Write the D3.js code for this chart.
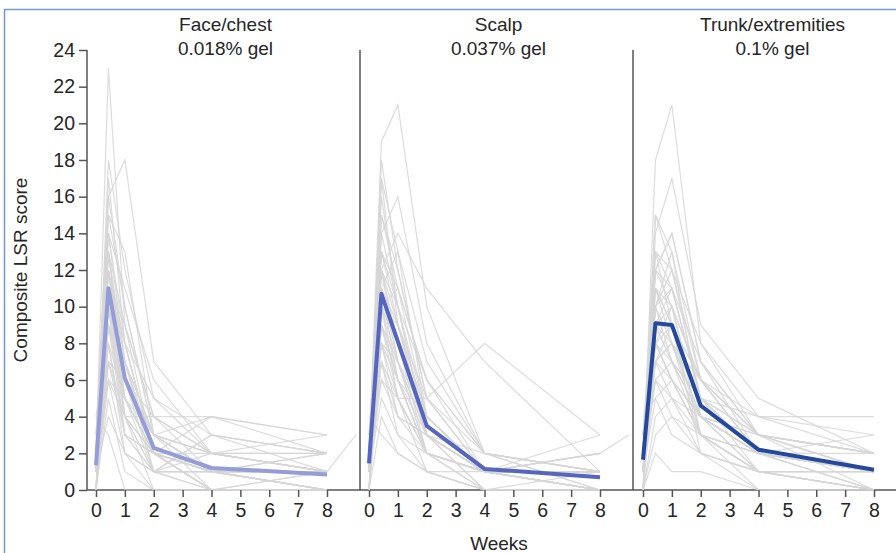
<!DOCTYPE html>
<html>
<head>
<meta charset="utf-8">
<script src="https://cdn.jsdelivr.net/npm/d3@7"></script>
<style>
    body { margin: 0; background: #fff; }
    svg { display: block; font-family: "Liberation Sans", Arial, sans-serif; }
    .axis text { font-size: 19.5px; fill: #262626; }
    .axis line, .axis path { stroke: #555; stroke-width: 1.5; }
    .title { font-size: 19px; fill: #262626; text-anchor: middle; }
    .patient { fill: none; stroke: #d6d6d6; stroke-width: 1.2; stroke-opacity: 0.85; }
    .mean { fill: none; stroke-width: 4; stroke-linejoin: round; }
</style>
</head>
<body>
<svg id="chart" width="896" height="553"></svg>
<script>
// visit weeks (day 3 = 0.43 wk); last slot is a late follow-up used by a few patients
const weeks = [0, 0.43, 1, 2, 4, 8, 9];
const xTicks = [0, 1, 2, 3, 4, 5, 6, 7, 8];
const yTicks = [0, 2, 4, 6, 8, 10, 12, 14, 16, 18, 20, 22, 24];
const panelTitles = [["Face/chest", "0.018% gel"], ["Scalp", "0.037% gel"], ["Trunk/extremities", "0.1% gel"]];
const meanColors = ["#949dd8", "#5666c0", "#24489e"];

// individual patient composite LSR scores (grey lines)
const facePatients = [
    [2, 23, 9, 4, 1, 0], [1, 18, 12, 5, 2, 1], [3, 16, 18, 7, 3, 2], [0, 15, 10, 3, 1, 0],
    [2, 14, 8, 2, 1, 1], [1, 13, 5, 2, 0, 0], [0, 12, 7, 3, 4, 3], [2, 12, 6, 1, 1, 1],
    [1, 11, 9, 4, 2, 1], [3, 11, 4, 2, 4, 2], [0, 10, 6, 3, 1, 0], [1, 10, 3, 2, 2, 3],
    [2, 10, 7, 1, 0, 0], [1, 9, 5, 2, 1, 1], [0, 9, 4, 0, 0, 0], [2, 9, 6, 3, 2, 2],
    [1, 8, 5, 2, 1, 0], [4, 8, 2, 1, 3, 1], [1, 7, 4, 2, 0, 0], [0, 7, 3, 1, 1, 2],
    [2, 6, 4, 4, 2, 1], [1, 6, 2, 0, 0, 0], [0, 5, 1, 0, 0, 0], [1, 4, 2, 1, 3, 2],
    [2, 12, 8, 2, 0, 1], [1, 13, 6, 3, 1, 0], [0, 14, 11, 6, 2, 1], [2, 11, 5, 2, 1, 1, 3],
    [1, 9, 7, 3, 0, 0], [2, 10, 4, 1, 1, 0], [0, 6, 5, 3, 2, 1], [1, 13, 9, 2, 1, 0],
    [2, 17, 8, 2, 0, 1], [1, 12, 4, 1, 2, 2], [0, 8, 3, 2, 1, 0], [4, 3, 0, 0, 0, 0],
    [1, 10, 6, 4, 4, 3], [2, 15, 13, 3, 1, 1], [1, 16, 10, 3, 1, 0], [2, 14, 7, 2, 1, 1],
    [0, 11, 8, 5, 3, 2], [1, 9, 3, 1, 0, 0], [2, 12, 6, 3, 2, 1], [1, 7, 6, 2, 1, 0],
    [0, 13, 7, 2, 0, 0], [3, 10, 5, 1, 1, 2]
];
const scalpPatients = [
    [2, 19, 21, 10, 2, 1], [1, 18, 12, 5, 2, 0], [0, 14, 16, 8, 2, 1], [2, 17, 13, 4, 1, 0],
    [1, 15, 11, 6, 1, 1], [3, 13, 10, 3, 1, 2], [1, 12, 14, 11, 7, 1], [0, 12, 9, 4, 1, 0],
    [2, 11, 8, 3, 0, 0], [1, 11, 7, 2, 1, 1], [2, 10, 6, 4, 1, 3], [1, 10, 9, 3, 1, 0],
    [0, 9, 5, 2, 1, 1], [1, 6, 5, 5, 8, 3], [1, 8, 6, 2, 1, 0], [2, 8, 4, 3, 1, 1],
    [0, 7, 5, 1, 0, 0], [1, 7, 3, 2, 1, 2], [2, 6, 4, 3, 1, 1], [1, 5, 3, 1, 0, 0],
    [0, 4, 2, 1, 1, 0], [1, 13, 11, 4, 1, 1], [2, 16, 10, 3, 0, 0], [1, 12, 8, 2, 1, 2, 3],
    [3, 10, 7, 4, 1, 1], [1, 9, 6, 3, 1, 0], [0, 11, 9, 5, 1, 0], [2, 14, 10, 4, 1, 1],
    [1, 10, 5, 2, 0, 0], [2, 8, 7, 3, 1, 1], [1, 12, 10, 6, 2, 0], [0, 9, 6, 2, 1, 1],
    [2, 7, 4, 2, 1, 2], [1, 11, 13, 7, 2, 1], [4, 3, 2, 1, 0, 0], [1, 10, 8, 3, 1, 0],
    [1, 15, 12, 5, 1, 0], [2, 13, 9, 3, 1, 1], [0, 10, 11, 6, 2, 1], [1, 8, 5, 2, 1, 0],
    [2, 12, 7, 2, 0, 1], [1, 17, 9, 4, 1, 0], [0, 9, 7, 3, 2, 1], [2, 11, 6, 2, 1, 0]
];
const trunkPatients = [
    [1, 18, 21, 8, 4, 2], [2, 15, 12, 6, 3, 1], [0, 14, 17, 9, 5, 2], [3, 13, 11, 5, 2, 1],
    [1, 12, 14, 7, 3, 0], [2, 11, 10, 4, 2, 1], [1, 11, 9, 6, 4, 3], [0, 10, 12, 5, 1, 0],
    [2, 10, 8, 3, 2, 1], [1, 9, 10, 6, 3, 2], [3, 9, 7, 4, 1, 0], [1, 8, 9, 5, 3, 1],
    [2, 8, 6, 3, 2, 2], [0, 7, 8, 4, 1, 0], [1, 7, 5, 2, 1, 1], [2, 6, 7, 5, 2, 0],
    [1, 6, 4, 3, 2, 1], [4, 5, 6, 4, 3, 2], [1, 5, 3, 2, 0, 0], [0, 4, 5, 3, 1, 1],
    [2, 12, 11, 7, 3, 2], [1, 10, 13, 4, 2, 0], [3, 9, 8, 5, 4, 4], [1, 8, 10, 6, 2, 1],
    [2, 7, 6, 3, 1, 0], [0, 11, 9, 2, 1, 1], [1, 13, 12, 8, 3, 2], [2, 6, 5, 4, 2, 1],
    [1, 9, 7, 3, 1, 0], [0, 3, 4, 2, 1, 0], [2, 10, 11, 5, 3, 1], [1, 8, 6, 4, 2, 3],
    [3, 7, 9, 6, 2, 1], [1, 12, 10, 3, 0, 0], [0, 2, 1, 1, 0, 0], [2, 8, 7, 5, 2, 1],
    [1, 15, 13, 6, 2, 1], [2, 11, 8, 4, 3, 2], [0, 9, 11, 5, 2, 1], [1, 13, 9, 3, 1, 0],
    [2, 7, 8, 6, 3, 2], [1, 10, 7, 4, 2, 1], [0, 12, 14, 7, 2, 0], [3, 8, 6, 3, 1, 1]
];

// group means (thick coloured lines)
const faceMean = [1.35, 11.0, 6.1, 2.3, 1.2, 0.85];
const scalpMean = [1.45, 10.7, 8.1, 3.5, 1.15, 0.7];
const trunkMean = [1.65, 9.1, 9.0, 4.6, 2.2, 1.1];

const panels = [
    { patients: facePatients, mean: faceMean },
    { patients: scalpPatients, mean: scalpMean },
    { patients: trunkPatients, mean: trunkMean }
];

(function () {
    const svg = d3.select("#chart");

    const top = 50, bottom = 490;
    const yAxisX = 87;
    const panelStarts = [96, 369, 643];
    const panelWidth = 231;
    const dividers = [360, 633];

    // blue frame around the figure
    svg.append("path")
        .attr("d", "M4.5,560 V9.5 H900")
        .attr("fill", "none")
        .attr("stroke", "#6f99d6")
        .attr("stroke-width", 1.5);

    const y = d3.scaleLinear().domain([0, 24]).range([bottom, top]);

    // y axis
    const yAxis = svg.append("g")
        .attr("class", "axis")
        .attr("transform", `translate(${yAxisX},0)`)
        .call(d3.axisLeft(y).tickValues(yTicks).tickSize(8).tickSizeOuter(0).tickPadding(4));

    // baseline across all panels
    svg.append("line")
        .attr("x1", yAxisX).attr("x2", 896)
        .attr("y1", bottom).attr("y2", bottom)
        .attr("stroke", "#555").attr("stroke-width", 1.5);

    // panel dividers
    svg.selectAll(".divider")
        .data(dividers)
        .join("line")
        .attr("class", "divider")
        .attr("x1", d => d).attr("x2", d => d)
        .attr("y1", top).attr("y2", bottom)
        .attr("stroke", "#555").attr("stroke-width", 1.5);

    panels.forEach((p, i) => {
        const x = d3.scaleLinear().domain([0, 8]).range([panelStarts[i], panelStarts[i] + panelWidth]);
        const g = svg.append("g");

        const line = d3.line()
            .defined(d => d != null)
            .x((d, j) => x(weeks[j]))
            .y(d => y(d));

        g.selectAll(".patient")
            .data(p.patients)
            .join("path")
            .attr("class", "patient")
            .attr("d", line);

        g.append("path")
            .datum(p.mean)
            .attr("class", "mean")
            .attr("stroke", meanColors[i])
            .attr("d", line);

        const xAxis = svg.append("g")
            .attr("class", "axis")
            .attr("transform", `translate(0,${bottom})`)
            .call(d3.axisBottom(x).tickValues(xTicks).tickSize(7).tickPadding(6).tickFormat(d3.format("d")));
        xAxis.select(".domain").remove();

        const cx = panelStarts[i] + panelWidth / 2 + 14;
        svg.append("text").attr("class", "title")
            .attr("x", cx).attr("y", 31).text(panelTitles[i][0]);
        svg.append("text").attr("class", "title")
            .attr("x", cx).attr("y", 55).text(panelTitles[i][1]);
    });

    yAxis.select(".domain").attr("d", `M0,${top}V${bottom}`);

    // axis titles
    svg.append("text")
        .attr("class", "title")
        .attr("x", 499).attr("y", 550)
        .text("Weeks");

    svg.append("text")
        .attr("class", "title")
        .attr("transform", "translate(27,270) rotate(-90)")
        .text("Composite LSR score");
})();
</script>
</body>
</html>
